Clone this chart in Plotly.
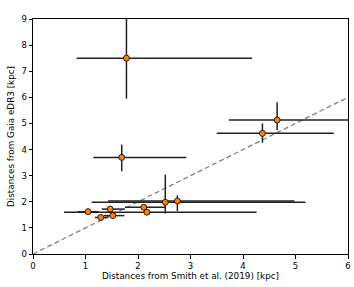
import plotly.graph_objects as go

# Data
x_smith = [1.78, 4.65, 4.37, 1.69, 2.52, 2.75, 2.11, 2.17, 1.05, 1.47, 1.29, 1.52]
y_gaia = [7.50, 5.13, 4.62, 3.70, 1.98, 2.03, 1.79, 1.60, 1.62, 1.72, 1.40, 1.47]
x_err_minus = [0.95, 0.92, 0.87, 0.54, 1.40, 1.32, 0.36, 1.58, 0.20, 0.16, 0.11, 0.17]
x_err_plus = [2.39, 1.80, 1.36, 1.23, 2.67, 2.23, 0.41, 2.09, 0.20, 0.28, 0.15, 0.22]
y_err_minus = [1.55, 0.39, 0.36, 0.53, 0.43, 0.38, 0.06, 0.06, 0.10, 0.06, 0.05, 0.05]
y_err_plus = [1.70, 0.68, 0.38, 0.49, 1.06, 0.22, 0.06, 0.06, 0.12, 0.06, 0.04, 0.05]
one_to_one = [0, 6]

x_ticks = [0, 1, 2, 3, 4, 5, 6]
y_ticks = [0, 1, 2, 3, 4, 5, 6, 7, 8, 9]

fig = go.Figure()
fig.add_trace(go.Scatter(
    x=one_to_one, y=one_to_one, mode="lines",
    line=dict(color="#808080", width=1.3, dash="5px,3px"),
    hoverinfo="skip", showlegend=False,
))
fig.add_trace(go.Scatter(
    x=x_smith, y=y_gaia, mode="markers",
    marker=dict(color="#ff7f0e", size=6, line=dict(color="black", width=0.8)),
    error_x=dict(type="data", symmetric=False, array=x_err_plus, arrayminus=x_err_minus,
                 color="#222222", thickness=1.5, width=0),
    error_y=dict(type="data", symmetric=False, array=y_err_plus, arrayminus=y_err_minus,
                 color="#222222", thickness=1.5, width=0),
    showlegend=False,
))

axis_common = dict(
    showgrid=False, zeroline=False, showline=True, linecolor="black", linewidth=1,
    mirror=True, ticks="outside", ticklen=3.5, tickwidth=0.8, tickcolor="black",
    tickfont=dict(family="DejaVu Sans", size=8.5, color="black"), automargin=False,
    ticklabeloverflow="allow",
)
fig.update_xaxes(range=[0, 6], tickvals=x_ticks,
                 title=dict(text="Distances from Smith et al. (2019) [kpc]",
                            font=dict(family="DejaVu Sans", size=8.8, color="black"), standoff=3),
                 **axis_common)
fig.update_yaxes(range=[0, 9], tickvals=y_ticks,
                 title=dict(text="Distances from Gaia eDR3 [kpc]",
                            font=dict(family="DejaVu Sans", size=8.8, color="black"), standoff=5),
                 **axis_common)
fig.update_layout(
    width=354, height=287,
    margin=dict(l=33, r=6, t=19, b=33),
    paper_bgcolor="white", plot_bgcolor="white",
)
# remove the default page margin so the figure fills the window exactly
fig.write_html(
    "out.html",
    config={"displayModeBar": False},
    post_script="document.body.style.margin='0';document.body.style.overflow='hidden';",
)
